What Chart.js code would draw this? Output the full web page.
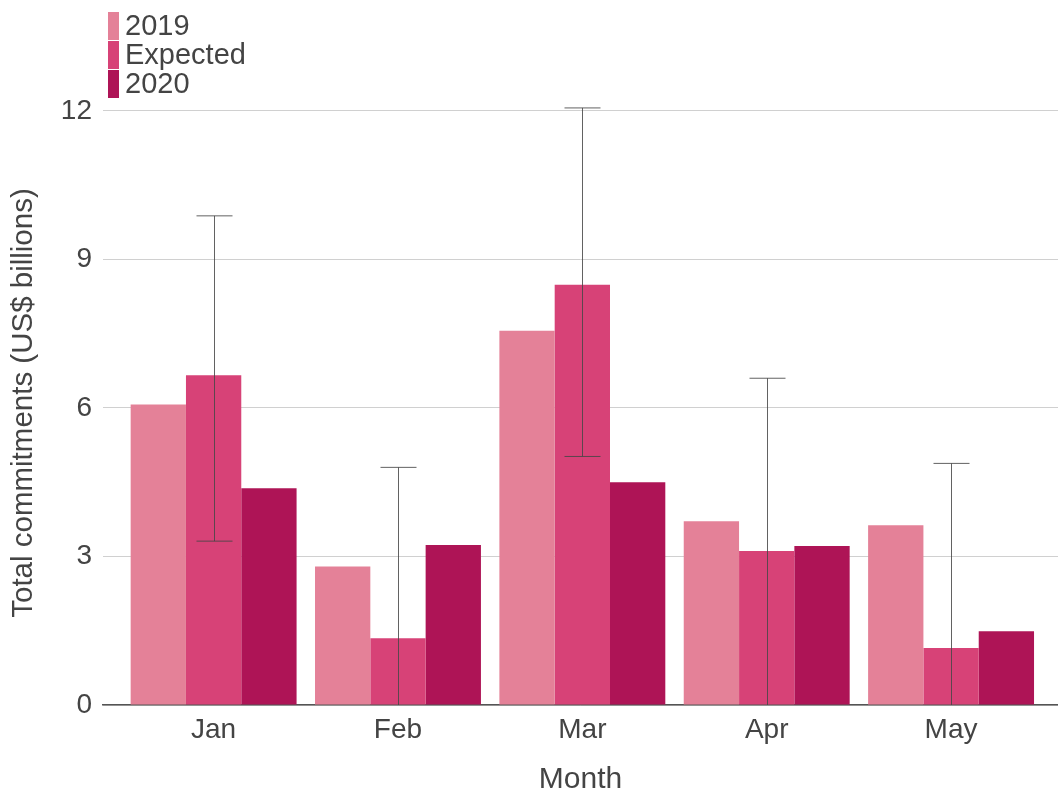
<!DOCTYPE html>
<html>
<head>
<meta charset="utf-8">
<script src="https://cdn.jsdelivr.net/npm/chart.js@4"></script>
<style>
  body { margin: 0; background: #fff; font-family: "Liberation Sans", Arial, sans-serif; }
  #wrap { position: relative; width: 1058px; height: 790px; }
  #legend { position: absolute; left: 108px; top: 11px; color: #444; font-size: 29px; }
  #legend div { display: flex; align-items: center; height: 29px; line-height: 29px; }
  #legend span.box { display: inline-block; width: 11px; height: 28px; margin-right: 6px; }
</style>
</head>
<body>
<div id="wrap">
  <canvas id="chart" width="1058" height="790"></canvas>
  <div id="legend"></div>
</div>
<script>
// Dados
const months = ['Jan', 'Feb', 'Mar', 'Apr', 'May'];
const values2019 = [6.07, 2.80, 7.56, 3.71, 3.63];
const valuesExpected = [6.66, 1.35, 8.49, 3.11, 1.15];
const values2020 = [4.38, 3.23, 4.50, 3.21, 1.49];
const errLow = [3.31, 0, 5.02, 0, 0];
const errHigh = [9.88, 4.80, 12.06, 6.60, 4.88];
const yTicks = [0, 3, 6, 9, 12];

const textColor = '#444';
const fontFamily = '"Liberation Sans", Arial, sans-serif';

function toPoints(vals) {
    return vals.map((v, i) => ({ x: i, y: v }));
}

// Barras de erro na série "Expected"
const errorBars = {
    id: 'errorBars',
    afterDatasetsDraw(chart) {
        const meta = chart.getDatasetMeta(1);
        const y = chart.scales.y;
        const ctx = chart.ctx;
        ctx.save();
        ctx.strokeStyle = 'rgba(70,70,70,0.85)';
        ctx.lineWidth = 1;
        meta.data.forEach((bar, i) => {
            const x = Math.round(bar.x) + 0.5;
            const top = y.getPixelForValue(errHigh[i]);
            const bottom = y.getPixelForValue(errLow[i]);
            ctx.beginPath();
            ctx.moveTo(x, top);
            ctx.lineTo(x, bottom);
            ctx.moveTo(x - 18, top);
            ctx.lineTo(x + 18, top);
            if (errLow[i] > 0) {
                ctx.moveTo(x - 18, bottom);
                ctx.lineTo(x + 18, bottom);
            }
            ctx.stroke();
        });
        ctx.restore();
    }
};

const datasets = [
    { label: '2019', data: toPoints(values2019), backgroundColor: '#e48198' },
    { label: 'Expected', data: toPoints(valuesExpected), backgroundColor: '#d74277' },
    { label: '2020', data: toPoints(values2020), backgroundColor: '#ae1456' }
];

const chart = new Chart(document.getElementById('chart'), {
    type: 'bar',
    data: { datasets: datasets },
    options: {
        responsive: false,
        animation: false,
        layout: { padding: { top: 101, right: 0, left: 0, bottom: 0 } },
        datasets: { bar: { categoryPercentage: 0.9, barPercentage: 1, borderWidth: 0 } },
        plugins: {
            legend: { display: false },
            tooltip: { enabled: false }
        },
        scales: {
            x: {
                type: 'linear',
                offset: false,
                min: -0.6,
                max: 4.58,
                afterBuildTicks: axis => { axis.ticks = months.map((m, i) => ({ value: i })); },
                afterFit: axis => { axis.height = 85; },
                grid: { display: false, drawTicks: false, offset: false },
                border: { display: true, color: '#555', width: 1.5 },
                ticks: {
                    color: textColor,
                    padding: 8,
                    font: { family: fontFamily, size: 28 },
                    callback: v => months[v]
                },
                title: {
                    display: true,
                    text: 'Month',
                    color: textColor,
                    padding: { top: 0, bottom: -5 },
                    font: { family: fontFamily, size: 30, lineHeight: 1 }
                }
            },
            y: {
                min: 0,
                max: 12.2,
                afterBuildTicks: axis => { axis.ticks = yTicks.map(v => ({ value: v })); },
                afterFit: axis => { axis.width = 103; },
                grid: { color: '#d0d0d0', lineWidth: 1, drawTicks: false },
                border: { display: false },
                ticks: {
                    color: textColor,
                    padding: 11,
                    font: { family: fontFamily, size: 28 }
                },
                title: {
                    display: true,
                    text: 'Total commitments (US$ billions)',
                    color: textColor,
                    padding: { top: 8, bottom: 0 },
                    font: { family: fontFamily, size: 29.5, lineHeight: 1.1 }
                }
            }
        }
    },
    plugins: [errorBars]
});

// Legenda vertical em HTML
const legend = document.getElementById('legend');
chart.data.datasets.forEach(ds => {
    const item = document.createElement('div');
    item.innerHTML = '<span class="box" style="background:' + ds.backgroundColor + '"></span>' + ds.label;
    legend.appendChild(item);
});
</script>
</body>
</html>
